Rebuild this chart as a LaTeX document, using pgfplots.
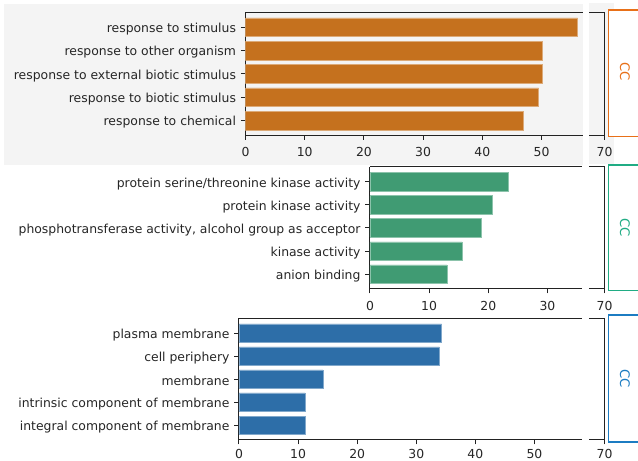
\documentclass[border=0pt]{standalone}
\usepackage{fontspec}
\setmainfont{DejaVu Sans}
\usepackage{pgfplots}
\pgfplotsset{compat=1.18}

\definecolor{barO}{RGB}{197,113,30}
\definecolor{barG}{RGB}{64,155,115}
\definecolor{barB}{RGB}{45,110,168}
\definecolor{boxO}{RGB}{232,112,24}
\definecolor{boxG}{RGB}{32,172,132}
\definecolor{boxB}{RGB}{28,124,194}
\definecolor{spine}{RGB}{34,34,34}
\definecolor{txt}{RGB}{38,38,38}
\definecolor{panelbg}{RGB}{244,244,244}

\newcommand{\lbl}{\fontsize{12.4}{14}\selectfont}
\newcommand{\tag}{\fontsize{13.2}{15}\selectfont}

\pgfplotsset{
  gobase/.style={
    scale only axis, anchor=south west,
    ymin=-0.64, ymax=4.64,
    axis line style={spine, line width=1pt},
    tick style={spine, line width=1pt},
    tick align=outside, major tick length=4.5pt,
    ticklabel style={font=\lbl, text=txt},
    xticklabel style={inner sep=1pt, yshift=-6.4pt},
    yticklabel style={xshift=-1.5pt, yshift=-2pt},
    /pgf/number format/assume math mode=true,
    xtick pos=lower,
  },
  gomain/.style={
    gobase, xbar, bar width=0.8, xmin=0,
    axis x line*=box, axis y line*=left,
    ytick={0,...,4},
  },
  gotail/.style={
    gobase, xmin=67.4, xmax=70, width=15.5pt, xtick={70}, ytick=\empty,
    axis x line*=box, axis y line*=right,
  },
  % bottom row sits close to the page edge
  lowrow/.style={xticklabel style={yshift=3pt}},
}

\begin{document}
\begin{tikzpicture}
\path[use as bounding box] (0pt,0pt) rectangle (638pt,461pt);
\clip (0pt,0pt) rectangle (638pt,461pt);

% shaded background of the first block
\fill[panelbg] (4pt,296pt) rectangle (583pt,457pt);
\fill[panelbg] (589pt,297pt) rectangle (614pt,458pt);

% ---------- biological process ----------
\begin{axis}[gomain, at={(245.5pt,325.5pt)}, width=337.5pt, height=123.2pt, xmax=57,
  xtick={0,10,...,50},
  yticklabels={response to chemical, response to biotic stimulus, response to external biotic stimulus, response to other organism, response to stimulus}]
\addplot[fill=barO, draw=barO!60!white, line width=0.6pt] coordinates {
  (47.0,0) (49.5,1) (50.1,2) (50.1,3) (56.1,4)};
\end{axis}
\begin{axis}[gotail, at={(589pt,325.5pt)}, height=123.2pt]
\addplot[draw=none] coordinates {(68,0)};
\end{axis}

% ---------- molecular function ----------
\begin{axis}[gomain, at={(370pt,172pt)}, width=211.7pt, height=122pt, xmax=35.8,
  xtick={0,10,...,30},
  yticklabels={anion binding, kinase activity, {phosphotransferase activity, alcohol group as acceptor}, protein kinase activity, protein serine/threonine kinase activity}]
\addplot[fill=barG, draw=barG!60!white, line width=0.6pt] coordinates {
  (13.0,0) (15.6,1) (18.8,2) (20.6,3) (23.4,4)};
\end{axis}
\begin{axis}[gotail, at={(589pt,172pt)}, height=122pt]
\addplot[draw=none] coordinates {(68,0)};
\end{axis}

% ---------- cellular component ----------
\begin{axis}[gomain, lowrow, at={(239pt,21pt)}, width=342.7pt, height=121.7pt, xmax=58,
  xtick={0,10,...,50},
  yticklabels={integral component of membrane, intrinsic component of membrane, membrane, cell periphery, plasma membrane}]
\addplot[fill=barB, draw=barB!60!white, line width=0.6pt] coordinates {
  (11.2,0) (11.2,1) (14.2,2) (33.9,3) (34.3,4)};
\end{axis}
\begin{axis}[gotail, lowrow, at={(589pt,21pt)}, height=121.7pt]
\addplot[draw=none] coordinates {(68,0)};
\end{axis}

% side tags
\draw[boxO, line width=1.5pt, fill=white] (608.5pt,324.5pt) rectangle (660pt,451pt);
\node[rotate=-90, text=boxO, font=\tag] at (625pt,389pt) {CC};
\draw[boxG, line width=1.5pt, fill=white] (608.5pt,170.5pt) rectangle (660pt,296pt);
\node[rotate=-90, text=boxG, font=\tag] at (625pt,233pt) {CC};
\draw[boxB, line width=1.5pt, fill=white] (608.5pt,19pt) rectangle (660pt,146pt);
\node[rotate=-90, text=boxB, font=\tag] at (625pt,82pt) {CC};
\end{tikzpicture}
\end{document}
